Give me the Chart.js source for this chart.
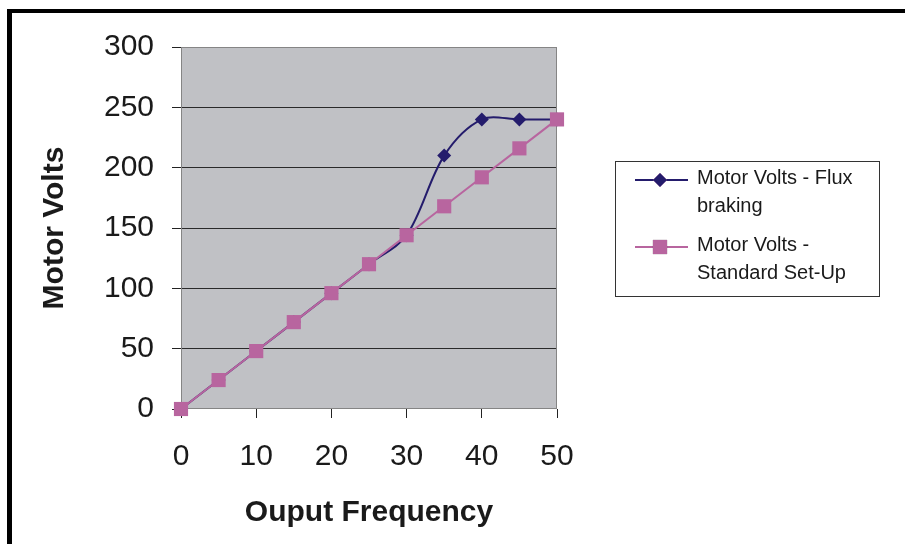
<!DOCTYPE html>
<html>
<head>
<meta charset="utf-8">
<script src="https://cdn.jsdelivr.net/npm/chart.js@4/dist/chart.umd.min.js"></script>
<style>
  html, body { margin: 0; padding: 0; background: #fff; }
  #wrap { position: relative; width: 905px; height: 544px; }
  #frame {
    position: absolute; left: 7px; top: 9px; right: 0; bottom: 0;
    border-top: 4px solid #000; border-left: 5px solid #000;
    pointer-events: none;
  }
</style>
</head>
<body>
<div id="wrap">
  <canvas id="volts-chart" width="905" height="544"></canvas>
  <div id="frame"></div>
</div>
<script>
// ===== Data =====
const frequency = [0, 5, 10, 15, 20, 25, 30, 35, 40, 45, 50];
const fluxBraking = [0, 24, 48, 72, 96, 120, 144, 210, 240, 240, 240];
const standardSetUp = [0, 24, 48, 72, 96, 120, 144, 168, 192, 216, 240];

const seriesNames = ["Motor Volts - Flux braking", "Motor Volts - Standard Set-Up"];
const legendLines = [["Motor Volts - Flux", "braking"], ["Motor Volts -", "Standard Set-Up"]];
const xTitle = "Ouput Frequency";
const yTitle = "Motor Volts";

const navy = "#241c6c";
const pink = "#b8659f";
const font = "'Liberation Sans', Arial, sans-serif";

function toPoints(ys) {
  return frequency.map((x, i) => ({ x: x, y: ys[i] }));
}

// gray plot area + border
const plotBg = {
  id: 'plotBg',
  beforeDraw(chart) {
    const a = chart.chartArea, c = chart.ctx;
    c.save();
    c.fillStyle = "#c0c1c5";
    c.fillRect(a.left, a.top, a.right - a.left, a.bottom - a.top);
    c.restore();
  },
  beforeDatasetsDraw(chart) {
    const a = chart.chartArea, c = chart.ctx;
    c.save();
    c.strokeStyle = "#858585";
    c.lineWidth = 1;
    c.strokeRect(a.left + 0.5, a.top + 0.5, a.right - a.left - 1, a.bottom - a.top - 1);
    c.restore();
  }
};

// boxed legend with wrapped labels (like the Excel one)
const boxLegend = {
  id: 'boxLegend',
  afterDraw(chart) {
    const c = chart.ctx;
    c.save();
    c.strokeStyle = "#333";
    c.lineWidth = 1;
    c.strokeRect(615.5, 161.5, 264, 135);
    const rows = [178, 245];
    chart.data.datasets.forEach((ds, i) => {
      const y = rows[i];
      c.strokeStyle = ds.borderColor;
      c.lineWidth = 2;
      c.beginPath();
      c.moveTo(635, y + 2);
      c.lineTo(688, y + 2);
      c.stroke();
      Chart.helpers.drawPoint(c, {
        pointStyle: ds.pointStyle, radius: ds.pointRadius, borderWidth: 0
      }, 660, y + 2);
      c.fillStyle = ds.backgroundColor;
      c.fill();
      c.fillStyle = "#1a1a1a";
      c.font = "20px " + font;
      c.textBaseline = "middle";
      legendLines[i].forEach((t, j) => c.fillText(t, 697, y + j * 28.5));
    });
    c.restore();
  }
};

const ctx = document.getElementById('volts-chart').getContext('2d');
new Chart(ctx, {
  type: 'line',
  data: {
    datasets: [
      {
        label: seriesNames[0],
        data: toPoints(fluxBraking),
        borderColor: navy,
        backgroundColor: navy,
        borderWidth: 2,
        pointStyle: 'rectRot',
        pointRadius: 7,
        pointBorderWidth: 0,
        tension: 0.33,
        clip: false,
        order: 1
      },
      {
        label: seriesNames[1],
        data: toPoints(standardSetUp),
        borderColor: pink,
        backgroundColor: pink,
        borderWidth: 2,
        pointStyle: 'rect',
        pointRadius: 10,
        pointBorderWidth: 0,
        tension: 0,
        clip: false,
        order: 0
      }
    ]
  },
  options: {
    responsive: false,
    animation: false,
    layout: { padding: { left: 0, top: 47, right: 348, bottom: 0 } },
    plugins: {
      legend: { display: false },
      tooltip: { enabled: false }
    },
    scales: {
      x: {
        type: 'linear',
        min: 0, max: 50,
        afterFit(scale) { scale.height = 135; },
        ticks: { stepSize: 10, padding: 21, color: "#1a1a1a", font: { family: font, size: 30 } },
        grid: { drawOnChartArea: false, drawTicks: true, tickLength: 9, tickColor: "#222" },
        border: { display: false },
        title: { display: true, text: xTitle, color: "#1a1a1a", padding: { top: 0, bottom: 13 },
                 font: { family: font, size: 30, weight: 'bold' } }
      },
      y: {
        min: 0, max: 300,
        afterFit(scale) { scale.width = 181; },
        ticks: { stepSize: 50, padding: 18, color: "#1a1a1a", font: { family: font, size: 30 } },
        grid: {
          tickLength: 9,
          tickColor: "#222",
          color: (c) => (c.tick && (c.tick.value === 0 || c.tick.value === 300)) ? "rgba(0,0,0,0)" : "#2a2a2a",
          lineWidth: 1
        },
        border: { display: false },
        title: { display: true, text: yTitle, color: "#1a1a1a", padding: { top: 37, bottom: 0 },
                 font: { family: font, size: 30, weight: 'bold' } }
      }
    }
  },
  plugins: [plotBg, boxLegend]
});
</script>
</body>
</html>
